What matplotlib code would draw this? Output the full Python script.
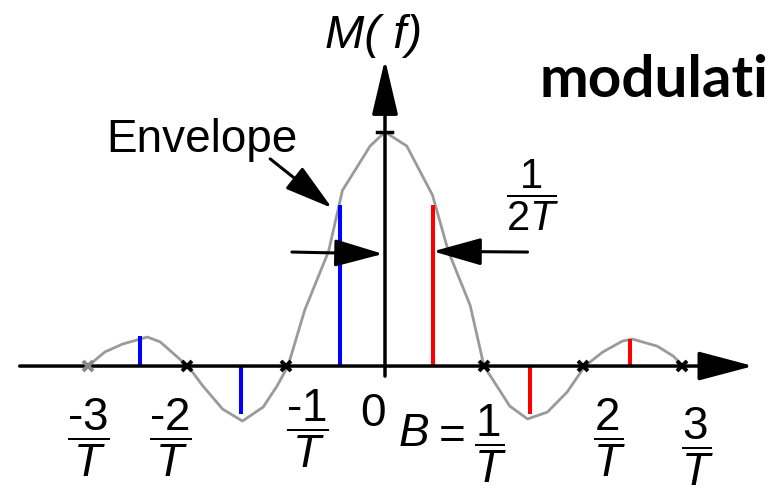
import matplotlib.pyplot as plt

plt.rcParams['font.family'] = 'Liberation Sans'
plt.rcParams['mathtext.fontset'] = 'custom'
plt.rcParams['mathtext.rm'] = 'Liberation Sans'
plt.rcParams['mathtext.it'] = 'Liberation Sans:italic'

# envelope (f in units of 1/T, M normalised to peak)
env_x = [-3.0, -2.83, -2.65, -2.40, -2.27, -2.04, -1.99, -1.84, -1.64, -1.44, -1.23,
         -1.09, -0.98, -0.81, -0.57, -0.43, -0.15, 0.0, 0.22, 0.48, 0.64, 0.86, 1.0,
         1.13, 1.26, 1.44, 1.64, 1.84, 2.02, 2.2, 2.4, 2.5, 2.75, 2.91, 3.01]
env_y = [0, 0.06, 0.094, 0.124, 0.103, 0.017, 0, -0.085, -0.184, -0.235, -0.175,
         -0.085, 0, 0.24, 0.49, 0.75, 0.94, 1.0, 0.94, 0.73, 0.49, 0.26, 0,
         -0.085, -0.171, -0.226, -0.197, -0.111, 0, 0.06, 0.107, 0.115, 0.085, 0.043, 0]

# spectral lines
blue_x = [-2.47, -1.45, -0.45]
blue_h = [0.128, -0.205, 0.69]
red_x = [0.48, 1.46, 2.47]
red_h = [0.69, -0.205, 0.115]

# zero crossings
zeros = [-2, -1, 1, 2, 3]
zero_grey = [-3]

# tick labels under the axis
frac_labels = [r'$\dfrac{\text{-3}}{T}$', r'$\dfrac{\text{-2}}{T}$', r'$\dfrac{\text{-1}}{T}$',
               r'$\dfrac{1}{T}$', r'$\dfrac{2}{T}$', r'$\dfrac{3}{T}$']
frac_x = [-3.0, -2.17, -0.78, 1.06, 2.27, 3.16]
frac_y = [-0.303, -0.303, -0.265, -0.33, -0.303, -0.342]

fs = 33

fig = plt.figure(figsize=(7.68, 4.89), dpi=100)
ax = fig.add_axes([0, 0, 1, 1])
ax.set_xlim(-3.889, 3.869)
ax.set_ylim(-0.521, 1.568)
ax.axis('off')

# envelope + lines
ax.plot(env_x, env_y, color='#9a9a9a', lw=2.0, zorder=1, solid_joinstyle='round')
ax.vlines(blue_x, 0, blue_h, color='#0000ff', lw=2.9, zorder=2)
ax.vlines(red_x, 0, red_h, color='#ff0000', lw=2.9, zorder=2)

# axes with arrow heads
ax.annotate('', xy=(3.72, 0), xytext=(-3.69, 0),
            arrowprops=dict(arrowstyle='-|>,head_length=3.4,head_width=0.9', mutation_scale=10,
                            lw=2.5, color='black', shrinkA=0, shrinkB=0), zorder=3)
ax.annotate('', xy=(0, 1.31), xytext=(0, -0.043),
            arrowprops=dict(arrowstyle='-|>,head_length=3.4,head_width=0.8', mutation_scale=10,
                            lw=2.5, color='black', shrinkA=0, shrinkB=0), zorder=3)
ax.plot([-0.08, 0.07], [1.0, 1.0], color='black', lw=2.5, zorder=3)

ax.plot(zeros, [0] * len(zeros), 'x', color='black', ms=7, mew=2.8, zorder=4)
ax.plot(zero_grey, [0], 'x', color='#888888', ms=7, mew=2.8, zorder=4)

# pointer arrows
arr = dict(arrowstyle='-|>,head_length=3.0,head_width=0.85', mutation_scale=10,
           lw=2.2, color='black', shrinkA=0, shrinkB=0)
ax.annotate('', xy=(-0.535, 0.675), xytext=(-1.16, 0.885), arrowprops=arr)
ax.annotate('', xy=(-0.02, 0.479), xytext=(-0.94, 0.487), arrowprops=arr)
ax.annotate('', xy=(0.485, 0.49), xytext=(1.44, 0.487), arrowprops=arr)

# text
ax.text(-1.85, 0.919, 'Envelope', fontsize=fs, ha='center', va='baseline')
ax.text(-0.12, 1.363, 'M( f)', fontsize=fs + 1, style='italic', ha='center', va='baseline')
ax.text(1.49, 0.735, r'$\dfrac{1}{2T}$', fontsize=fs - 3, ha='center', va='center')
ax.text(-0.12, -0.20, '0', fontsize=fs, ha='center', va='center')
ax.text(0.29, -0.286, 'B', fontsize=fs, style='italic', ha='center', va='center')
ax.text(0.68, -0.30, '=', fontsize=fs, ha='center', va='center')
for lab, x, y in zip(frac_labels, frac_x, frac_y):
    ax.text(x, y, lab, fontsize=fs, ha='center', va='center')

# title, cut by the right edge in the source
ax.text(1.56, 1.154, 'modulati', fontsize=42, fontweight='bold', family='Lato',
        ha='left', va='baseline')

fig.savefig('out.png', dpi=100)
